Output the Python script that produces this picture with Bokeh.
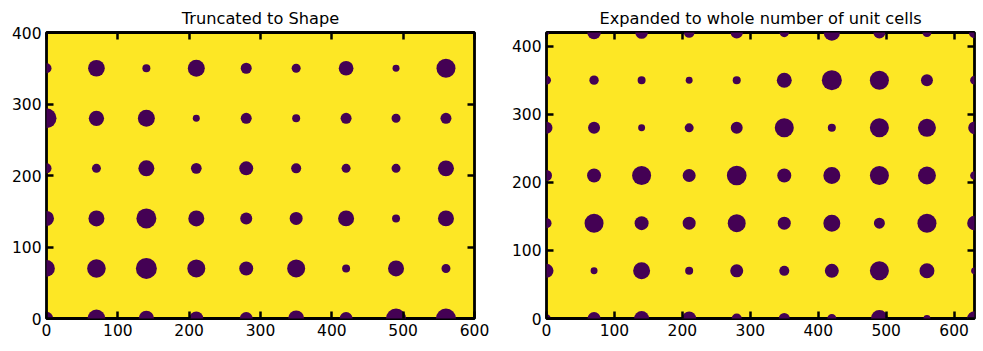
from bokeh.plotting import figure
from bokeh.layouts import row
from bokeh.models import Range1d, FixedTicker, LinearAxis, ColumnDataSource
from bokeh.embed import file_html
from bokeh.resources import INLINE

# ---- data -------------------------------------------------------------
left_title = "Truncated to Shape"
left_cols = [0, 70, 140, 210, 280, 350, 420, 490, 560]
left_rows = [0, 70, 140, 210, 280, 350]
# radius of each spot, one list per row (bottom row first)
left_r_y0 = [9.3, 12.5, 10.8, 9.8, 9.1, 11.2, 9.1, 14.0, 14.0]
left_r_y70 = [11.7, 13.0, 14.7, 12.6, 9.8, 12.6, 5.6, 11.2, 6.3]
left_r_y140 = [10.5, 11.2, 14.0, 11.2, 8.4, 9.1, 11.2, 5.6, 11.2]
left_r_y210 = [7.0, 6.3, 11.2, 7.5, 9.8, 7.0, 6.3, 6.3, 11.2]
left_r_y280 = [14.0, 10.7, 11.9, 4.9, 7.7, 5.6, 7.7, 6.3, 7.7]
left_r_y350 = [7.0, 11.7, 5.6, 11.9, 7.7, 6.3, 10.3, 4.9, 13.3]
left_radii = [left_r_y0, left_r_y70, left_r_y140, left_r_y210, left_r_y280, left_r_y350]
left_xmax = 600
left_ymax = 400
left_xticks = [0, 100, 200, 300, 400, 500, 600]
left_yticks = [0, 100, 200, 300, 400]

right_title = "Expanded to whole number of unit cells"
right_cols = [0, 70, 140, 210, 280, 350, 420, 490, 560, 630]
right_rows = [0, 70, 140, 210, 280, 350, 420]
right_r_y0 = [6.4, 9.6, 11.0, 10.3, 7.4, 8.1, 6.6, 12.5, 5.1, 10.8]
right_r_y70 = [10.3, 5.1, 12.5, 5.9, 9.6, 7.4, 10.3, 14.0, 11.0, 5.0]
right_r_y140 = [7.4, 14.0, 10.3, 9.6, 13.2, 9.6, 12.5, 8.1, 14.0, 10.8]
right_r_y210 = [8.1, 10.3, 14.0, 9.6, 14.5, 10.3, 12.5, 14.0, 13.2, 6.4]
right_r_y280 = [8.8, 8.8, 5.1, 6.6, 8.8, 14.0, 5.9, 14.0, 13.2, 9.3]
right_r_y350 = [6.6, 6.9, 5.9, 5.1, 5.9, 11.0, 14.7, 14.0, 8.8, 6.4]
right_r_y420 = [4.0, 10.0, 9.3, 7.8, 9.0, 6.9, 12.0, 8.8, 6.6, 8.3]
right_radii = [right_r_y0, right_r_y70, right_r_y140, right_r_y210,
               right_r_y280, right_r_y350, right_r_y420]
right_xmax = 630
right_ymax = 420
right_xticks = [0, 100, 200, 300, 400, 500, 600]
right_yticks = [0, 100, 200, 300, 400]

BG = "#fde725"
SPOT = "#440154"
FONT = "DejaVu Sans"


def make_panel(title, cols, rows, radii, xmax, ymax, xticks, yticks,
               width, border_left, border_right):
    xs, ys, rs = [], [], []
    for yv, rrow in zip(rows, radii):
        for xv, rv in zip(cols, rrow):
            xs.append(xv)
            ys.append(yv)
            rs.append(rv)
    src = ColumnDataSource(dict(x=xs, y=ys, r=rs))

    p = figure(width=width, height=351,
               x_range=Range1d(0, xmax), y_range=Range1d(0, ymax),
               output_backend="svg", toolbar_location=None,
               min_border_left=border_left, min_border_right=border_right,
               min_border_top=32, min_border_bottom=33,
               x_axis_location=None, y_axis_location=None)
    p.title.text = title
    p.title.text_font = FONT
    p.title.text_font_size = "16.2px"
    p.title.text_font_style = "normal"
    p.title.text_color = "black"
    p.title.align = "center"
    p.background_fill_color = BG
    p.border_fill_color = "white"
    p.outline_line_color = "black"
    p.outline_line_width = 2.8
    p.grid.visible = False

    p.circle(x="x", y="y", radius="r", source=src,
             fill_color=SPOT, line_color=None)

    for loc, ticks, show in [("below", xticks, True), ("left", yticks, True),
                             ("above", xticks, False), ("right", yticks, False)]:
        ax = LinearAxis(ticker=FixedTicker(ticks=ticks, minor_ticks=[]))
        ax.axis_line_color = None
        ax.major_tick_in = 7
        ax.major_tick_out = 0
        ax.major_tick_line_width = 2.5
        ax.major_tick_line_color = "black"
        ax.minor_tick_line_color = None
        ax.major_label_text_font = FONT
        if show:
            ax.major_label_text_color = "black"
            ax.major_label_text_font_size = "15.5px"
            ax.major_label_standoff = 5
        else:
            # ticks only on the top/right spines: labels are not painted
            ax.major_label_text_color = None
            ax.major_label_text_alpha = 0
            ax.major_label_text_font_size = "1px"
            ax.major_label_standoff = 0
        p.add_layout(ax, loc)
    return p


p_left = make_panel(left_title, left_cols, left_rows, left_radii,
                    left_xmax, left_ymax, left_xticks, left_yticks,
                    500, 46, 26)
p_right = make_panel(right_title, right_cols, right_rows, right_radii,
                     right_xmax, right_ymax, right_xticks, right_yticks,
                     483, 46, 9)

layout = row(p_left, p_right)
open("out.html", "w").write(file_html(layout, INLINE))
